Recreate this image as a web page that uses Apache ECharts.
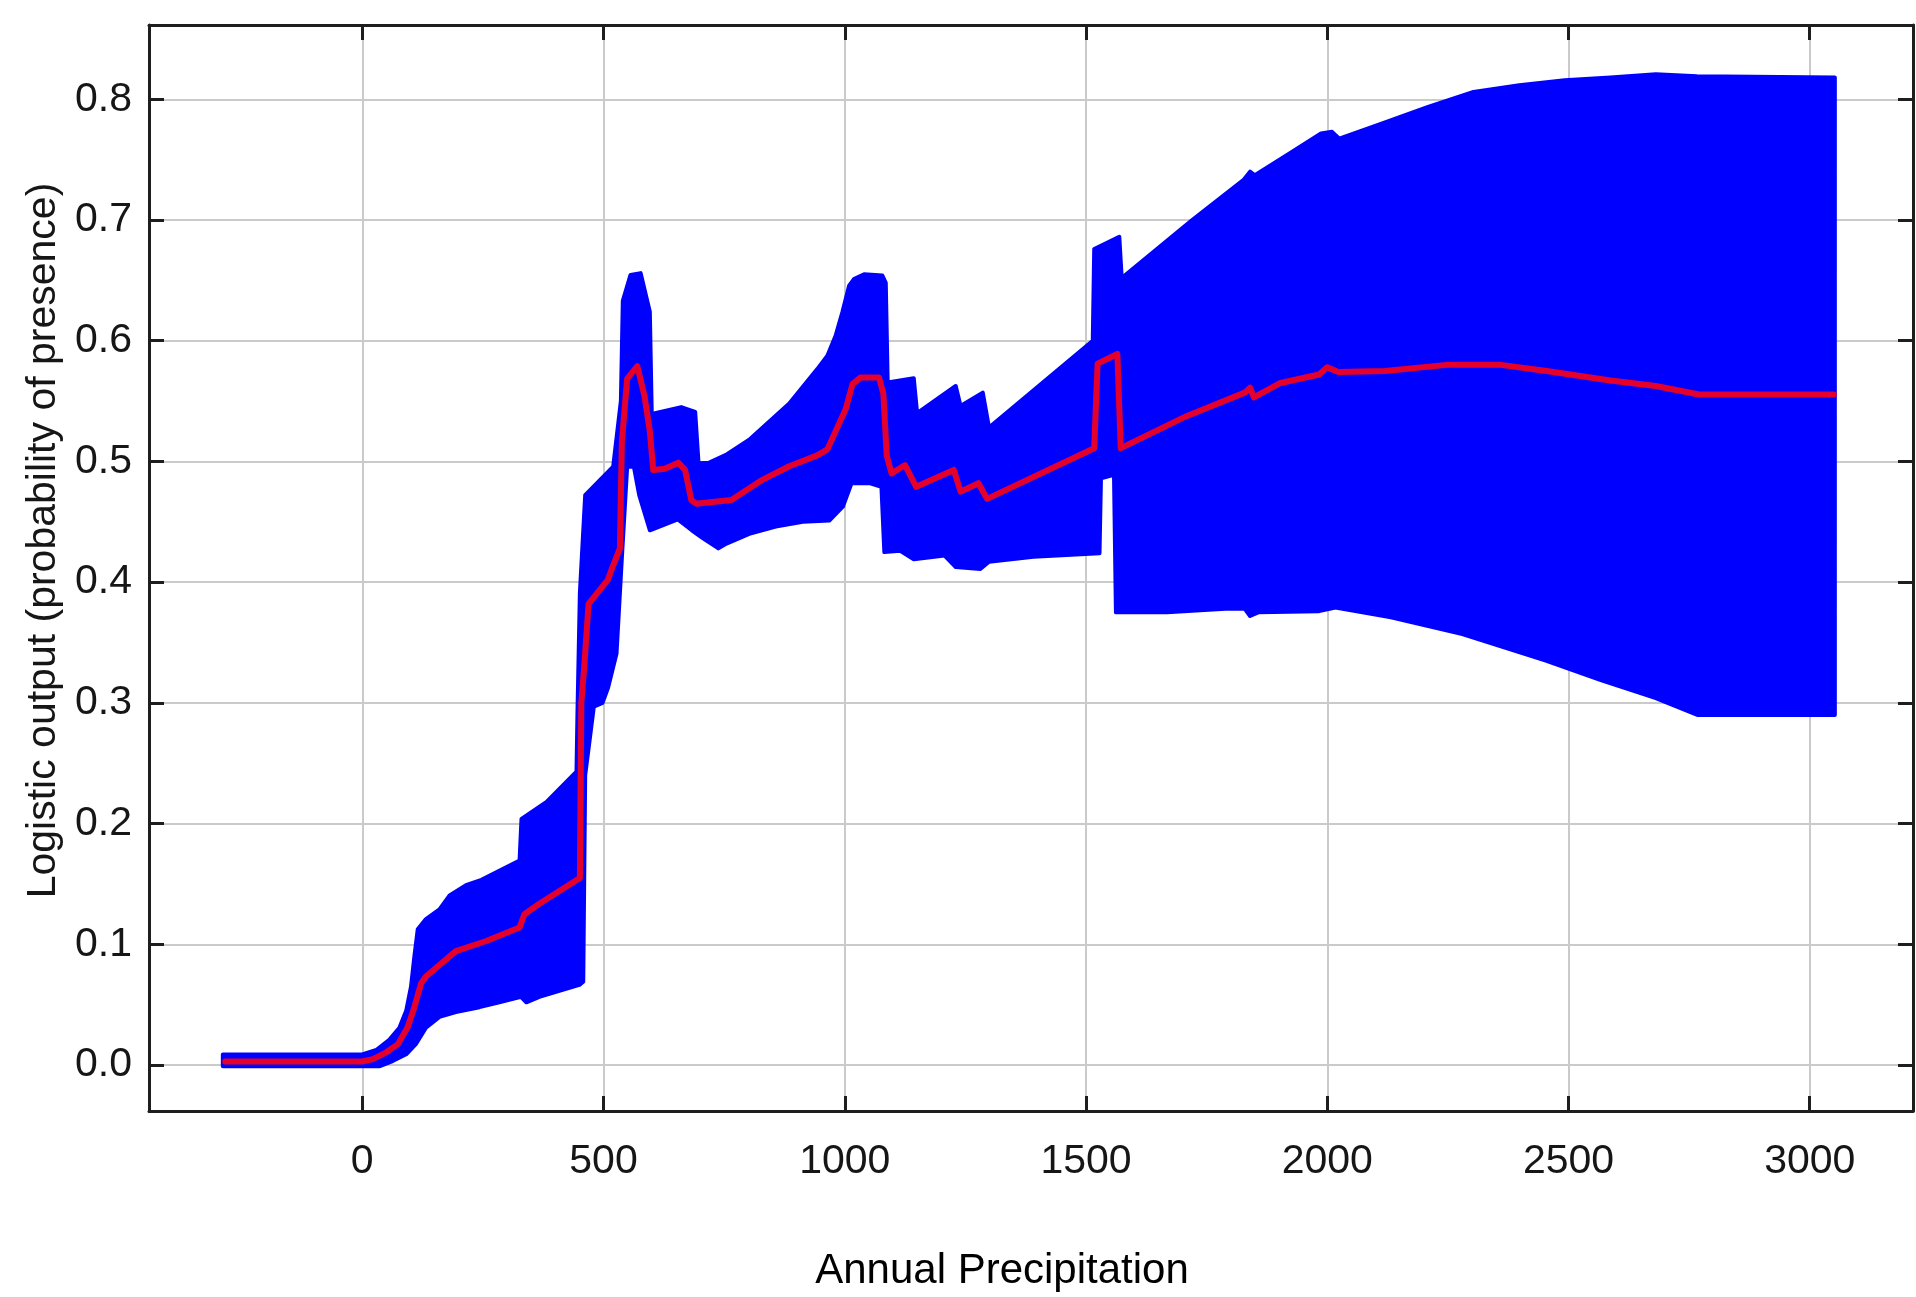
<!DOCTYPE html>
<html>
<head>
<meta charset="utf-8">
<script src="https://cdn.jsdelivr.net/npm/echarts@6/dist/echarts.min.js"></script>
<style>
html,body{margin:0;padding:0;background:#fff;}
#chart{width:1916px;height:1297px;}
</style>
</head>
<body>
<div id="chart"></div>
<script>
// ---- Data (x = Annual Precipitation, y = logistic output) ----
const xAxisTitle = 'Annual Precipitation';
const yAxisTitle = 'Logistic output (probability of presence)';
const xRange = [-442, 3214];
const yRange = [-0.038, 0.8615];
const xTickStep = 500;
const yTickStep = 0.1;

// mean response (red line)
const meanCurve = [
  [-284, 0.003], [0, 0.003], [22, 0.005], [49, 0.0104], [74, 0.0174], [94, 0.0314],
  [108, 0.048], [122, 0.0678], [132, 0.0734], [194, 0.0944], [257, 0.1028], [326, 0.114],
  [336, 0.125], [367, 0.1336], [451, 0.155], [454, 0.30], [460, 0.33], [469, 0.382],
  [509, 0.402], [520, 0.414], [534, 0.428], [538, 0.516], [549, 0.5685], [570, 0.579],
  [585, 0.554], [596, 0.525], [603, 0.493], [627, 0.494], [655, 0.499], [669, 0.493],
  [682, 0.468], [692, 0.465], [726, 0.4665], [765, 0.468], [830, 0.485], [885, 0.496],
  [943, 0.505], [964, 0.51], [1002, 0.5434], [1016, 0.564], [1033, 0.5696], [1071, 0.5696],
  [1080, 0.556], [1087, 0.505], [1097, 0.49], [1125, 0.497], [1148, 0.479], [1226, 0.493],
  [1240, 0.475], [1277, 0.482], [1295, 0.469], [1517, 0.511], [1524, 0.581], [1565, 0.589],
  [1572, 0.511], [1708, 0.5375], [1829, 0.557], [1840, 0.561], [1848, 0.553], [1903, 0.565],
  [1983, 0.572], [2000, 0.578], [2023, 0.574], [2120, 0.575], [2247, 0.580], [2360, 0.580],
  [2455, 0.575], [2587, 0.567], [2681, 0.5625], [2770, 0.5555], [3050, 0.5555]
];

// mean + one standard deviation (upper edge of blue band)
const upperBound = [
  [-289, 0.0089], [0, 0.0089], [29, 0.0125], [56, 0.021], [77, 0.031], [91, 0.045],
  [101, 0.065], [108, 0.090], [115, 0.1126], [132, 0.121], [160, 0.129], [181, 0.1406],
  [215, 0.149], [247, 0.1535], [326, 0.1695], [330, 0.204], [382, 0.218], [444, 0.243],
  [446, 0.291], [451, 0.391], [462, 0.472], [491, 0.484], [520, 0.4956], [536, 0.55],
  [540, 0.633], [556, 0.6545], [577, 0.656], [596, 0.624], [600, 0.5394], [661, 0.545],
  [690, 0.541], [697, 0.4985], [719, 0.499], [756, 0.506], [802, 0.518], [885, 0.548],
  [943, 0.5765], [964, 0.5876], [981, 0.604], [995, 0.6235], [1009, 0.6455], [1019, 0.651],
  [1040, 0.655], [1078, 0.654], [1085, 0.648], [1089, 0.5655], [1143, 0.569], [1150, 0.540],
  [1230, 0.5625], [1240, 0.546], [1286, 0.557], [1299, 0.528], [1514, 0.600], [1517, 0.676],
  [1569, 0.686], [1574, 0.652], [1720, 0.70], [1826, 0.733], [1840, 0.74], [1850, 0.737],
  [1925, 0.756], [1987, 0.7716], [2010, 0.773], [2025, 0.7674], [2114, 0.78], [2209, 0.7937],
  [2303, 0.806], [2398, 0.8116], [2492, 0.8157], [2587, 0.818], [2681, 0.8207], [2766, 0.819],
  [3052, 0.818]
];

// mean - one standard deviation (lower edge of blue band)
const lowerBound = [
  [-289, -0.001], [0, -0.001], [35, -0.001], [63, 0.0034], [91, 0.009], [111, 0.0174],
  [132, 0.031], [160, 0.040], [194, 0.044], [243, 0.048], [284, 0.052], [329, 0.0566],
  [340, 0.052], [367, 0.0566], [450, 0.0664], [458, 0.069], [462, 0.24], [480, 0.297],
  [498, 0.30], [509, 0.312], [527, 0.341], [538, 0.42], [549, 0.4956], [563, 0.4956],
  [574, 0.472], [596, 0.443], [654, 0.452], [683, 0.443], [704, 0.437], [738, 0.428],
  [755, 0.432], [802, 0.44], [857, 0.446], [913, 0.45], [968, 0.451], [996, 0.4625],
  [1014, 0.482], [1051, 0.482], [1076, 0.479], [1082, 0.425], [1115, 0.426], [1143, 0.419],
  [1207, 0.422], [1230, 0.4125], [1281, 0.411], [1299, 0.417], [1391, 0.421], [1528, 0.424],
  [1531, 0.486], [1558, 0.489], [1562, 0.375], [1668, 0.375], [1789, 0.378], [1829, 0.378],
  [1840, 0.372], [1857, 0.375], [1983, 0.376], [2017, 0.379], [2132, 0.371], [2280, 0.357],
  [2453, 0.335], [2567, 0.319], [2681, 0.304], [2767, 0.290], [3052, 0.290]
];

// ---- Chart ----
const FONT = "'Liberation Sans', Arial, Helvetica, sans-serif";
const TXT = '#161616';
const frameLine = { show: true, onZero: false, lineStyle: { color: '#1e1e1e', width: 3 } };
const innerTick = { show: true, inside: true, length: 15, lineStyle: { color: '#1e1e1e', width: 3 } };

const chart = echarts.init(document.getElementById('chart'), null, { renderer: 'canvas' });

const xCommon = {
  type: 'value', min: xRange[0], max: xRange[1], splitNumber: 7,
  minInterval: xTickStep, maxInterval: xTickStep, scale: true
};
const yCommon = {
  type: 'value', min: yRange[0], max: yRange[1], splitNumber: 9,
  minInterval: yTickStep, maxInterval: yTickStep, scale: true
};

chart.setOption({
  animation: false,
  backgroundColor: '#ffffff',
  grid: { left: 149, top: 25, right: 3, bottom: 185, containLabel: false },
  xAxis: [
    Object.assign({}, xCommon, {
      position: 'bottom',
      name: xAxisTitle, nameLocation: 'middle', nameGap: 139,
      nameTextStyle: { fontFamily: FONT, fontSize: 42, color: '#000', padding: [0, 58, 0, 0] },
      axisLine: frameLine, axisTick: innerTick,
      axisLabel: {
        show: true, margin: 30, fontFamily: FONT, fontSize: 41, color: TXT,
        showMinLabel: false, showMaxLabel: false,
        formatter: v => String(Math.round(v))
      },
      splitLine: { show: true, lineStyle: { color: '#cacaca', width: 2 } }
    }),
    Object.assign({}, xCommon, {
      position: 'top',
      axisLine: frameLine, axisTick: innerTick,
      axisLabel: { show: false }, splitLine: { show: false }
    })
  ],
  yAxis: [
    Object.assign({}, yCommon, {
      position: 'left',
      name: yAxisTitle, nameLocation: 'middle', nameGap: 61, nameRotate: 90,
      nameTextStyle: { fontFamily: FONT, fontSize: 41, color: TXT, padding: [0, 0, 0, 55] },
      axisLine: frameLine, axisTick: innerTick,
      axisLabel: {
        show: true, margin: 17, fontFamily: FONT, fontSize: 41, color: TXT,
        showMinLabel: false, showMaxLabel: false,
        formatter: v => v.toFixed(1)
      },
      splitLine: { show: true, lineStyle: { color: '#cacaca', width: 2 } }
    }),
    Object.assign({}, yCommon, {
      position: 'right',
      axisLine: frameLine, axisTick: innerTick,
      axisLabel: { show: false }, splitLine: { show: false }
    })
  ],
  series: [
    {
      name: 'band',
      type: 'custom',
      coordinateSystem: 'cartesian2d',
      xAxisIndex: 0, yAxisIndex: 0,
      silent: true,
      z: 2,
      data: [[0, 0]],
      renderItem: function (params, api) {
        const pts = upperBound.map(p => api.coord(p))
          .concat(lowerBound.slice().reverse().map(p => api.coord(p)));
        return {
          type: 'polygon',
          shape: { points: pts },
          style: { fill: '#0000ff', stroke: '#0000ff', lineWidth: 4, lineJoin: 'round' }
        };
      }
    },
    {
      name: 'mean',
      type: 'line',
      xAxisIndex: 0, yAxisIndex: 0,
      data: meanCurve,
      showSymbol: false,
      symbol: 'none',
      z: 5,
      lineStyle: { color: '#e5002c', width: 6, join: 'round', cap: 'round' }
    }
  ]
});
</script>
</body>
</html>
